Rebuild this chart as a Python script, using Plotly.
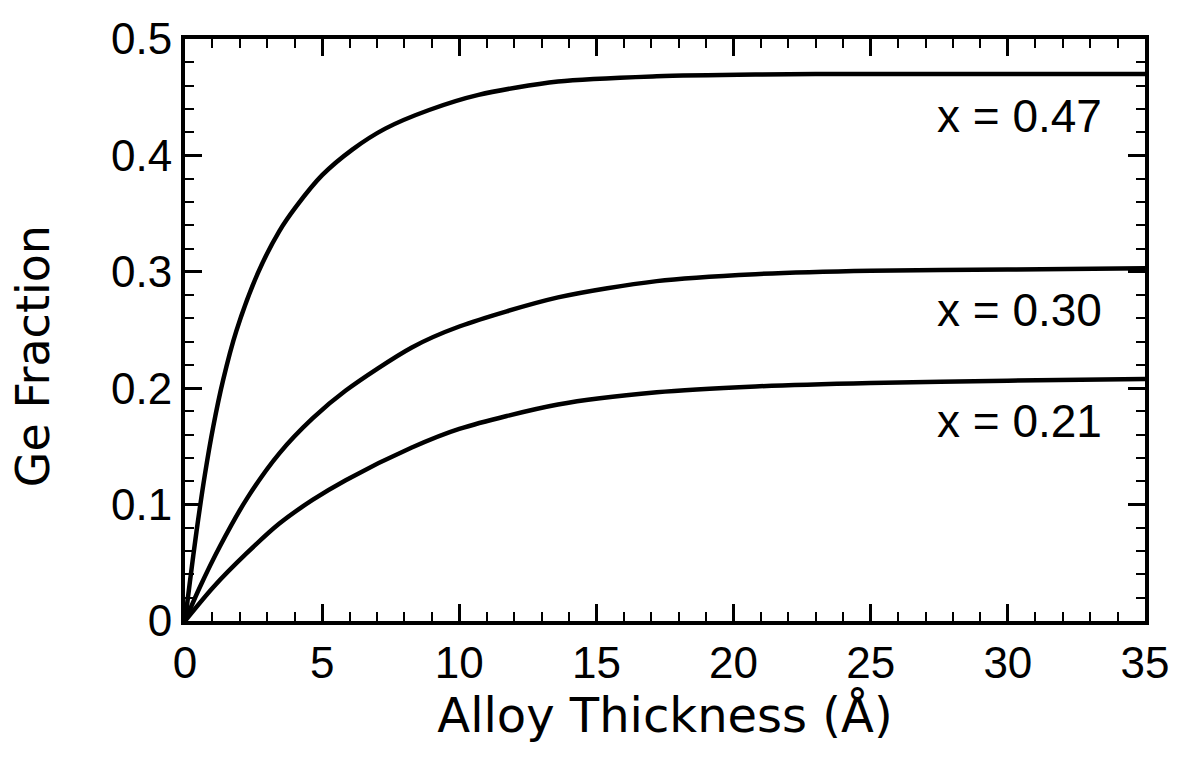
import plotly.graph_objects as go

# ---- data ----
thickness_047 = [0, 0.18, 0.42, 0.72, 1.03, 1.39, 1.87, 2.66, 3.44, 4.05, 5.0, 6.1, 7.3, 8.9, 10.7, 13.6, 17.2, 20.8, 25, 30, 35]
ge_047 = [0, 0.034, 0.077, 0.125, 0.167, 0.207, 0.249, 0.299, 0.335, 0.356, 0.383, 0.405, 0.423, 0.439, 0.452, 0.4635, 0.468, 0.4695, 0.470, 0.470, 0.470]

thickness_030 = [0, 0.54, 1.27, 2.24, 3.44, 4.65, 5.86, 8.27, 10.0, 13.6, 17.2, 20.8, 25, 30, 35]
ge_030 = [0, 0.029, 0.064, 0.1045, 0.144, 0.174, 0.198, 0.235, 0.253, 0.278, 0.292, 0.298, 0.301, 0.302, 0.303]

thickness_021 = [0, 1.03, 2.24, 3.44, 4.65, 5.86, 8.27, 10.0, 13.6, 17.2, 20.8, 25, 30, 35]
ge_021 = [0, 0.029, 0.058, 0.0837, 0.104, 0.121, 0.149, 0.165, 0.186, 0.1965, 0.2015, 0.2045, 0.2065, 0.208]

series_labels = ["x = 0.47", "x = 0.30", "x = 0.21"]

x_tick_vals = [0, 5, 10, 15, 20, 25, 30, 35]
x_tick_text = ["0", "5", "10", "15", "20", "25", "30", "35"]
y_tick_vals = [0, 0.1, 0.2, 0.3, 0.4, 0.5]
y_tick_text = ["0", "0.1", "0.2", "0.3", "0.4", "0.5"]

x_title = "Alloy Thickness (Å)"
y_title = "Ge Fraction"

# ---- figure ----
fig = go.Figure()
series = [(thickness_047, ge_047), (thickness_030, ge_030), (thickness_021, ge_021)]
for (xs, ys), name in zip(series, series_labels):
    fig.add_trace(go.Scatter(
        x=xs, y=ys, mode="lines", name=name,
        line=dict(color="black", width=4.5, shape="spline", smoothing=0.8),
        showlegend=False,
    ))

label_font = dict(family="Liberation Sans, Arial, sans-serif", size=46, color="black")
for (xs, ys), name in zip(series, series_labels):
    fig.add_annotation(
        x=33.5, y=ys[-1] - 0.036, xref="x", yref="y",
        text=name, showarrow=False, xanchor="right", yanchor="middle",
        font=label_font,
    )

tick_font = dict(family="Liberation Sans, Arial, sans-serif", size=44, color="black")
y_title_font = dict(family="DejaVu Sans, Liberation Sans, sans-serif", size=46, color="black")
x_title_font = dict(family="DejaVu Sans, Liberation Sans, sans-serif", size=48, color="black")

# y-axis title (sits a little below the plot's centre in the reference)
fig.add_annotation(
    x=0, y=0.455, xref="paper", yref="paper", xshift=-152,
    text=y_title, textangle=-90, showarrow=False,
    xanchor="center", yanchor="middle", font=y_title_font,
)

fig.update_layout(
    width=1181, height=761,
    margin=dict(l=185, r=30, t=39, b=140),
    paper_bgcolor="white", plot_bgcolor="white",
    xaxis=dict(
        range=[0, 35], tickmode="array", tickvals=x_tick_vals, ticktext=x_tick_text,
        ticks="inside", ticklen=17, tickwidth=2.5, tickcolor="black",
        minor=dict(tickmode="linear", tick0=0, dtick=1, ticks="inside", ticklen=9,
                   tickwidth=2, tickcolor="black"),
        showline=True, linewidth=4, linecolor="black", mirror="allticks",
        showgrid=False, zeroline=False, tickfont=tick_font,
        title=dict(text=x_title, font=x_title_font, standoff=10),
    ),
    yaxis=dict(
        range=[0, 0.5], tickmode="array", tickvals=y_tick_vals, ticktext=y_tick_text,
        ticks="inside", ticklen=17, tickwidth=2.5, tickcolor="black",
        minor=dict(tickmode="linear", tick0=0, dtick=0.02, ticks="inside", ticklen=9,
                   tickwidth=2, tickcolor="black"),
        showline=True, linewidth=4, linecolor="black", mirror="allticks",
        showgrid=False, zeroline=False, tickfont=tick_font,
    ),
)

fig.write_html("out.html")
